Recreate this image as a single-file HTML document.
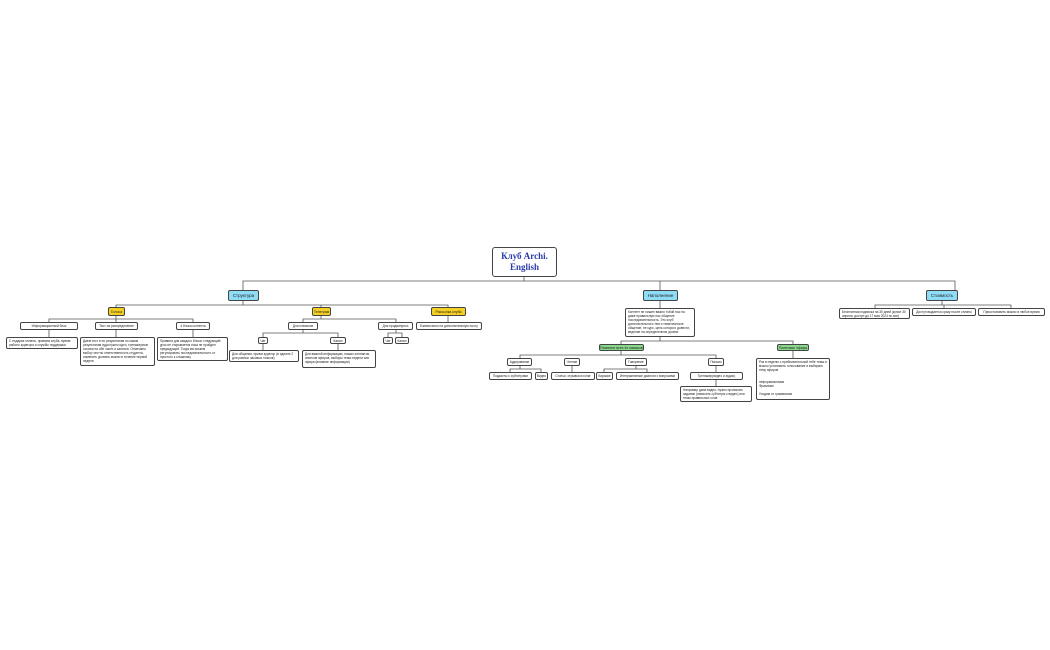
<!DOCTYPE html>
<html><head><meta charset="utf-8"><style>
body{margin:0;width:1050px;height:650px;background:#fff;position:relative;overflow:hidden;font-family:"Liberation Sans","Noto Sans CJK SC",sans-serif}
.n{position:absolute;box-sizing:border-box;border:1px solid #444;border-radius:2px;background:#fff;font-size:3.2px;line-height:4px;padding:1px 2px;color:#222;overflow:hidden}
.c{display:flex;align-items:center;justify-content:center;text-align:center;white-space:nowrap;padding:0 1px}
.b{background:#8fdcf7;font-size:4.5px}
.y{background:#f5d020;font-size:3.5px}
.g{background:#8ad88a;font-size:3.5px}
svg{position:absolute;left:0;top:0}
</style></head><body>
<svg width="1050" height="650" stroke="#555" stroke-width="0.8" fill="none">
<path d="M524 277V281M243 290V281H955V290M660 281V290"/>
<path d="M243 301V305M116 307V305H448V307M321 305V307"/>
<path d="M116 316V319M49 322V319H193V322M116 319V322M49 330V337M116 330V337M193 330V337"/>
<path d="M321 316V319M303 322V319H396V322M303 330V333M263 337V333H338V337M263 344V350M338 344V350M396 330V333M388 337V333H402V337"/>
<path d="M448 316V322"/>
<path d="M660 301V308M660 337V341M621 344V341H793V344M793 351V358"/>
<path d="M621 351V355M520 358V355H716V358M520 366V369M510 372V369H541V372M572 366V372M636 366V369M604 372V369H647V372M716 366V372M716 380V386"/>
<path d="M942 301V305M875 308V305H1011V308M944 305V308"/>
</svg>
<div class="n c" style="left:492px;top:247px;width:65px;height:30px;border-radius:3px;font-family:'Liberation Serif',serif;font-weight:bold;color:#2a3aa8;font-size:9px;line-height:11px;white-space:normal">Клуб Archi.<br>English</div>
<div class="n c b" style="left:228px;top:290px;width:31px;height:11px">Структура</div>
<div class="n c b" style="left:643px;top:290px;width:35px;height:11px">Наполнение</div>
<div class="n c b" style="left:926px;top:290px;width:32px;height:11px">Стоимость</div>
<div class="n c y" style="left:108px;top:307px;width:17px;height:9px">Голоса</div>
<div class="n c y" style="left:312px;top:307px;width:19px;height:9px">Телеграм</div>
<div class="n c y" style="left:431px;top:307px;width:35px;height:9px">Рассылка клуба</div>
<div class="n c" style="left:20px;top:322px;width:58px;height:8px">Информационный блок</div>
<div class="n c" style="left:95px;top:322px;width:43px;height:8px">Тест на распределение</div>
<div class="n c" style="left:176px;top:322px;width:34px;height:8px">4 блока контента</div>
<div class="n" style="left:6px;top:337px;width:72px;height:12px">С подарка оплаты, правила клуба, время работы куратора и службы поддержки</div>
<div class="n" style="left:80px;top:337px;width:75px;height:29px">Даем тест и по результатам по каким результатам куда нужно идти, тренажерные ссылки на обе части и занятия. Отмечаем выбор честно ответственность студента, поменять уровень можно в течение первой недели</div>
<div class="n" style="left:157px;top:337px;width:71px;height:24px">Правила для каждого блока: следующий урок не открывается пока не пройден предыдущий. Тогда мы можем регулировать последовательность от простого к сложному</div>
<div class="n c" style="left:288px;top:322px;width:30px;height:8px">Для новичков</div>
<div class="n c" style="left:378px;top:322px;width:35px;height:8px">Для продвинутых</div>
<div class="n c" style="left:258px;top:337px;width:10px;height:7px">Чат</div>
<div class="n c" style="left:330px;top:337px;width:16px;height:7px">Канал</div>
<div class="n c" style="left:383px;top:337px;width:10px;height:7px">Чат</div>
<div class="n c" style="left:395px;top:337px;width:14px;height:7px">Канал</div>
<div class="n" style="left:229px;top:350px;width:70px;height:12px">Для общения, прием куратор (в идеале 2 для разных часовых поясов)</div>
<div class="n" style="left:302px;top:350px;width:74px;height:18px">Для важной информации, наших контактов, анонсов эфиров, выборы темы недели или эфира (влияние информации)</div>
<div class="n c" style="left:416px;top:322px;width:66px;height:8px">Ежемесячно на дополнительную почту</div>
<div class="n" style="left:625px;top:308px;width:70px;height:29px">Контент не лишен важно тобой нас на даже правильную нас общение последовательность. Это клуб дополнительного тем и тематическое общение, не курс, цель которого довести, ведение на определенном уровне</div>
<div class="n c g" style="left:599px;top:344px;width:45px;height:7px">Развитие всех 4х навыков</div>
<div class="n c g" style="left:777px;top:344px;width:32px;height:7px">Полезные эфиры</div>
<div class="n c" style="left:507px;top:358px;width:25px;height:8px">Аудирование</div>
<div class="n c" style="left:564px;top:358px;width:16px;height:8px">Чтение</div>
<div class="n c" style="left:625px;top:358px;width:22px;height:8px">Говорение</div>
<div class="n c" style="left:708px;top:358px;width:16px;height:8px">Письмо</div>
<div class="n c" style="left:489px;top:372px;width:43px;height:8px">Подкасты с субтитрами</div>
<div class="n c" style="left:535px;top:372px;width:13px;height:8px">Видео</div>
<div class="n c" style="left:551px;top:372px;width:44px;height:8px">Статьи, отрывки из книг</div>
<div class="n c" style="left:596px;top:372px;width:17px;height:8px">Караоке</div>
<div class="n c" style="left:616px;top:372px;width:63px;height:8px">Интерактивные диалоги с вопросами</div>
<div class="n c" style="left:690px;top:372px;width:53px;height:8px">Тренажер(видео и аудио)</div>
<div class="n" style="left:680px;top:386px;width:72px;height:16px">Например дана видео, нужно прописать задание (написать субтитры к видео) или темы правильных слов</div>
<div class="n" style="left:756px;top:358px;width:74px;height:42px">Раз в неделю с приблизительной тебе темы и можно установить голосование и выбирать тему эфиров<br><br><br>неформальными<br>Фразовые<br><br>Уходим от грамматики</div>
<div class="n" style="left:839px;top:308px;width:71px;height:11px">Бесплатная подписка на 30 дней (купил 30 апреля, доступ до 17 мая 2024 по все)</div>
<div class="n c" style="left:912px;top:308px;width:64px;height:8px">Доступ выдается сразу после оплаты</div>
<div class="n c" style="left:978px;top:308px;width:67px;height:8px">Приостановить можно в любое время</div>
</body></html>
